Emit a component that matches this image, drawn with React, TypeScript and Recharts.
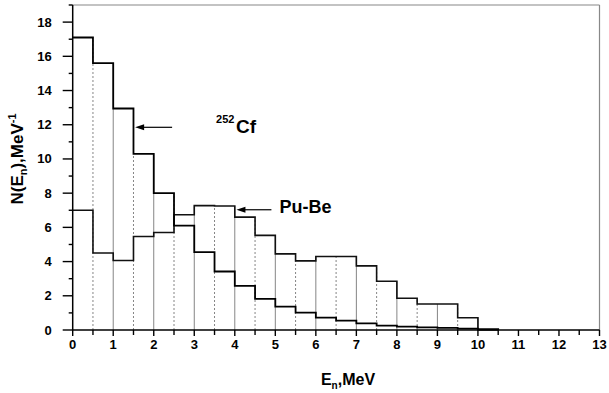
import React from 'react'
import { ComposedChart, Line, XAxis, YAxis, ReferenceLine, ReferenceDot } from 'recharts'

// bin edges, 0.5 MeV wide
const energyEdges = [0, 0.5, 1, 1.5, 2, 2.5, 3, 3.5, 4, 4.5, 5, 5.5, 6, 6.5, 7, 7.5, 8, 8.5, 9, 9.5, 10, 10.5]
// N(E) per bin
const cf252 = [17.1, 15.6, 12.95, 10.3, 8.0, 6.1, 4.55, 3.42, 2.58, 1.82, 1.37, 1.01, 0.72, 0.55, 0.39, 0.25, 0.2, 0.15, 0.12, 0.08, 0.05]
const puBe = [7.0, 4.5, 4.06, 5.47, 5.7, 6.74, 7.27, 7.25, 6.6, 5.53, 4.45, 4.04, 4.3, 4.3, 3.75, 2.85, 1.86, 1.52, 1.52, 0.72, 0]

const xTicks = [0, 0.5, 1, 1.5, 2, 2.5, 3, 3.5, 4, 4.5, 5, 5.5, 6, 6.5, 7, 7.5, 8, 8.5, 9, 9.5, 10, 10.5, 11, 11.5, 12, 12.5, 13]
const yTicks = [0, 1, 2, 3, 4, 5, 6, 7, 8, 9, 10, 11, 12, 13, 14, 15, 16, 17, 18, 19]

const FONT = '"Liberation Sans", Arial, sans-serif'

const data = energyEdges.map((e, i) => ({
  e,
  cf: i < cf252.length ? cf252[i] : 0,
  pu: i < puBe.length ? puBe[i] : 0,
}))

const dividers = energyEdges.slice(1, -1).map((e, k) => {
  const i = k + 1
  return { e, h: Math.max(cf252[i - 1], cf252[i], puBe[i - 1], puBe[i]), whole: Number.isInteger(e) }
})

const XTick = (props: any) => {
  const { x, y, payload } = props
  const major = Number.isInteger(payload.value)
  return (
    <g>
      <line x1={x} x2={x} y1={y} y2={y + (major ? 6 : 5)} stroke="#000" strokeWidth={1.4} />
      {major && (
        <text x={x} y={y + 19} textAnchor="middle" fontFamily={FONT} fontWeight="bold" fontSize={13} fill="#000">
          {payload.value}
        </text>
      )}
    </g>
  )
}

const YTick = (props: any) => {
  const { x, y, payload } = props
  const major = payload.value % 2 === 0
  return (
    <g>
      <line x1={x} x2={x - (major ? 10 : 4)} y1={y} y2={y} stroke="#000" strokeWidth={1.4} />
      {major && (
        <text x={x - 21} y={y + 4.5} textAnchor="end" fontFamily={FONT} fontWeight="bold" fontSize={13} fill="#000">
          {payload.value}
        </text>
      )}
    </g>
  )
}

const YLabel = () => (
  <text
    x={23}
    y={159}
    transform="rotate(-90 23 159)"
    textAnchor="middle"
    fontFamily={FONT}
    fontWeight="bold"
    fontSize={17}
    fill="#000"
  >
    N(E<tspan fontSize={11} dy={4}>n</tspan>
    <tspan dy={-4}>),MeV</tspan>
    <tspan fontSize={11} dy={-7}>-1</tspan>
  </text>
)

const XLabel = () => (
  <text x={348} y={385} textAnchor="middle" fontFamily={FONT} fontWeight="bold" fontSize={16} fill="#000">
    E<tspan fontSize={10} dy={4}>n</tspan>
    <tspan dy={-4}>,MeV</tspan>
  </text>
)

const Arrow = ({ cx, cy, len }: { cx: number; cy: number; len: number }) => (
  <g>
    <line x1={cx + 6} x2={cx + len} y1={cy} y2={cy} stroke="#000" strokeWidth={1.2} />
    <path d={`M${cx},${cy} L${cx + 9},${cy - 3} L${cx + 9},${cy + 3} Z`} fill="#000" />
  </g>
)

const CfNote = (props: any) => {
  const { cx, cy } = props
  return (
    <g>
      <Arrow cx={cx} cy={cy} len={37} />
      <text x={cx + 81} y={cy - 4} fontFamily={FONT} fontWeight="bold" fontSize={11} fill="#000">252</text>
      <text x={cx + 101} y={cy + 5.5} fontFamily={FONT} fontWeight="bold" fontSize={19} fill="#000">Cf</text>
    </g>
  )
}

const PuNote = (props: any) => {
  const { cx, cy } = props
  return (
    <g>
      <Arrow cx={cx} cy={cy} len={35} />
      <text x={cx + 43} y={cy + 3.5} fontFamily={FONT} fontWeight="bold" fontSize={18} fill="#000">Pu-Be</text>
    </g>
  )
}

export default function App() {
  return (
    <div style={{ position: 'absolute', left: 0, top: 0, background: '#fff' }}>
      <ComposedChart width={609} height={393} data={data} margin={{ top: 5, right: 9.5, left: 0, bottom: 0 }}>
        <XAxis
          dataKey="e"
          type="number"
          domain={[0, 13]}
          ticks={xTicks}
          interval={0}
          tickSize={0}
          tickMargin={0}
          tickLine={false}
          tick={XTick}
          height={63}
          stroke="#000"
          strokeWidth={1.5}
          label={<XLabel />}
        />
        <YAxis
          type="number"
          domain={[0, 19]}
          ticks={yTicks}
          interval={0}
          tickSize={0}
          tickMargin={0}
          tickLine={false}
          tick={YTick}
          width={72.7}
          stroke="#000"
          strokeWidth={1.5}
          label={<YLabel />}
        />
        <ReferenceLine y={19} stroke="#888" strokeWidth={1.2} />
        <ReferenceLine x={13} stroke="#888" strokeWidth={1.2} />
        {dividers.map(d => (
          <ReferenceLine
            key={d.e}
            segment={[{ x: d.e, y: 0 }, { x: d.e, y: d.h }]}
            stroke="#666"
            strokeWidth={0.8}
            strokeDasharray={d.whole ? undefined : '2 2'}
          />
        ))}
        <Line type="stepAfter" dataKey="pu" stroke="#111" strokeWidth={1.6} dot={false} isAnimationActive={false} />
        <Line type="stepAfter" dataKey="cf" stroke="#000" strokeWidth={1.8} dot={false} isAnimationActive={false} />
        <ReferenceDot x={1.54} y={11.85} r={0} shape={CfNote} />
        <ReferenceDot x={4.04} y={7.03} r={0} shape={PuNote} />
      </ComposedChart>
    </div>
  )
}
